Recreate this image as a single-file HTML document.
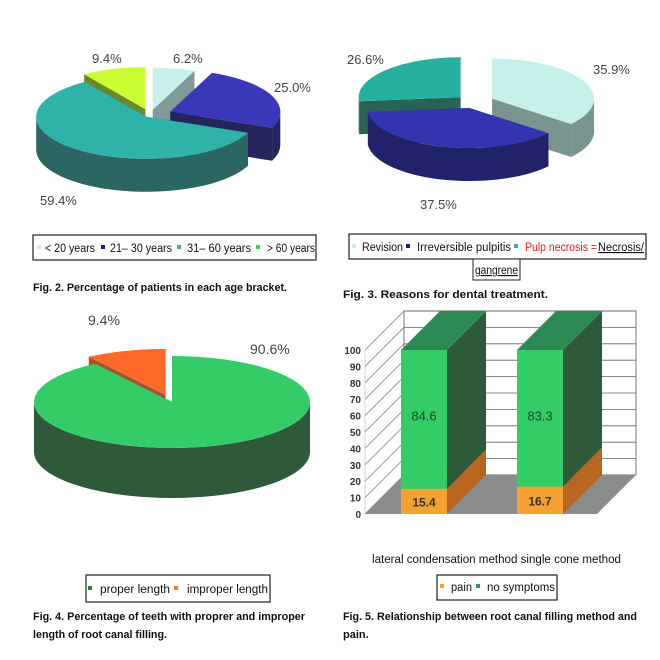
<!DOCTYPE html>
<html><head><meta charset="utf-8"><style>
body{margin:0;background:#fff;width:660px;height:660px;overflow:hidden}
svg{display:block}
text{font-family:"Liberation Sans",sans-serif}
.lbl{font-size:13px;fill:#444}
.leg{font-family:"Liberation Sans",sans-serif;font-size:11.5px;fill:#111}
.cap{font-size:11px;font-weight:bold;fill:#111;font-family:"Liberation Sans",sans-serif}
.tick{font-size:10px;font-weight:bold;fill:#333;font-family:"Liberation Sans",sans-serif}
</style></head><body>
<svg id="fig" width="660" height="660" viewBox="0 0 660 660">
<g id="fig2"></g>
<g id="fig3"></g>
<g id="fig4"></g>
<g id="fig5"></g>

<!-- Fig 2 labels/legend -->
<text class="lbl" x="92" y="63">9.4%</text>
<text class="lbl" x="173" y="63">6.2%</text>
<text class="lbl" x="274" y="92">25.0%</text>
<text class="lbl" x="40" y="205">59.4%</text>
<g>
<rect x="33" y="235" width="283" height="25" fill="#fff" stroke="#222" stroke-width="1.2"/>
<rect x="37" y="245" width="4" height="4" fill="#c8f0ec"/>
<text class="leg" x="45" y="252" textLength="50" lengthAdjust="spacingAndGlyphs">&lt; 20 years</text>
<rect x="101" y="245" width="4" height="4" fill="#1a1a90"/>
<text class="leg" x="110" y="252" textLength="62" lengthAdjust="spacingAndGlyphs">21–  30 years</text>
<rect x="177" y="245" width="4" height="4" fill="#2fb2a8"/>
<text class="leg" x="187" y="252" textLength="64" lengthAdjust="spacingAndGlyphs">31–  60 years</text>
<rect x="256" y="245" width="4" height="4" fill="#33dd33"/>
<text class="leg" x="267" y="252" textLength="48" lengthAdjust="spacingAndGlyphs">&gt; 60 years</text>
</g>
<text class="cap" x="33" y="291" textLength="254" lengthAdjust="spacingAndGlyphs">Fig. 2. Percentage of patients in each age bracket.</text>

<!-- Fig 3 labels/legend -->
<text class="lbl" x="347" y="64">26.6%</text>
<text class="lbl" x="593" y="74">35.9%</text>
<text class="lbl" x="420" y="209">37.5%</text>
<g>
<rect x="349" y="234" width="297" height="25" fill="#fff" stroke="#222" stroke-width="1.2"/>
<rect x="352" y="244" width="4" height="4" fill="#c8f0ec"/>
<text class="leg" x="362" y="251" textLength="41" lengthAdjust="spacingAndGlyphs">Revision</text>
<rect x="406" y="244" width="4" height="4" fill="#1a1a90"/>
<text class="leg" x="417" y="251" textLength="94" lengthAdjust="spacingAndGlyphs">Irreversible pulpitis</text>
<rect x="514" y="244" width="4" height="4" fill="#2fb2a8"/>
<text class="leg" x="525" y="251" textLength="72" lengthAdjust="spacingAndGlyphs" style="fill:#e02020">Pulp necrosis =</text><text class="leg" x="598" y="251" textLength="46" lengthAdjust="spacingAndGlyphs" text-decoration="underline">Necrosis/</text>
<rect x="473" y="259" width="47" height="21" fill="#fff" stroke="#222" stroke-width="1"/>
<text class="leg" x="475" y="274" textLength="43" lengthAdjust="spacingAndGlyphs" text-decoration="underline">gangrene</text>
</g>
<text class="cap" x="343" y="298" textLength="205" lengthAdjust="spacingAndGlyphs">Fig. 3. Reasons for dental treatment.</text>

<!-- Fig 4 labels/legend -->
<text class="lbl" x="88" y="325" style="font-size:14px">9.4%</text>
<text class="lbl" x="250" y="354" style="font-size:14px">90.6%</text>
<g>
<rect x="86" y="575" width="184" height="27" fill="#fff" stroke="#222" stroke-width="1.2"/>
<rect x="88" y="586" width="4" height="4" fill="#1a8a30"/>
<text class="leg" x="100" y="593" textLength="70" lengthAdjust="spacingAndGlyphs">proper length</text>
<rect x="174" y="586" width="4" height="4" fill="#ff7733"/>
<text class="leg" x="187" y="593" textLength="81" lengthAdjust="spacingAndGlyphs">improper length</text>
</g>
<text class="cap" x="33" y="620" textLength="272" lengthAdjust="spacingAndGlyphs">Fig. 4. Percentage of teeth with proprer and improper</text>
<text class="cap" x="33" y="638" textLength="134" lengthAdjust="spacingAndGlyphs">length of root canal filling.</text>

<!-- Fig 5 text -->
<text class="leg" x="372" y="563" textLength="249" lengthAdjust="spacingAndGlyphs">lateral condensation method  single cone method</text>
<g>
<rect x="437" y="575" width="120" height="25" fill="#fff" stroke="#222" stroke-width="1.2"/>
<rect x="440" y="584" width="4" height="4" fill="#f5a030"/>
<text class="leg" x="451" y="591" textLength="21" lengthAdjust="spacingAndGlyphs">pain</text>
<rect x="476" y="584" width="4" height="4" fill="#2a9a5a"/>
<text class="leg" x="487" y="591" textLength="68" lengthAdjust="spacingAndGlyphs">no symptoms</text>
</g>
<text class="cap" x="343" y="620" textLength="294" lengthAdjust="spacingAndGlyphs">Fig. 5. Relationship between root canal filling method and</text>
<text class="cap" x="343" y="638">pain.</text>
</svg>
<script>
// ---- data ----
const ageCategories = ["< 20 years","21-30 years","31-60 years","> 60 years"];
const ageValues = [6.2, 25.0, 59.4, 9.4];
const reasonCategories = ["Revision","Irreversible pulpitis","Pulp necrosis"];
const reasonValues = [35.9, 37.5, 26.6];
const lengthCategories = ["improper length","proper length"];
const lengthValues = [9.4, 90.6];
const methodCategories = ["lateral condensation method","single cone method"];
const painValues = [15.4, 16.7];
const noSymptomValues = [84.6, 83.3];
const yTicks = [0,10,20,30,40,50,60,70,80,90,100];

const NS = "http://www.w3.org/2000/svg";
function mk(parent, tag, attrs){const e=document.createElementNS(NS,tag);for(const k in attrs)e.setAttribute(k,attrs[k]);parent.appendChild(e);return e;}

function pie3d(g, values, names, tops, sides, cx, cy, rx, ry, depth, explode, startFrac){
  const total = values.reduce((a,b)=>a+b,0);
  let acc = startFrac||0;
  const slices = values.map((v,i)=>{const a0=acc/total*2*Math.PI;acc+=v;const a1=acc/total*2*Math.PI;return {i,a0,a1,mid:(a0+a1)/2};});
  function P(s,t,h){const ox=explode[s.i]*Math.sin(s.mid), oy=-explode[s.i]*Math.cos(s.mid)*ry/rx;return [cx+ox+rx*Math.sin(t), cy+oy-ry*Math.cos(t)+h];}
  function C(s,h){const ox=explode[s.i]*Math.sin(s.mid), oy=-explode[s.i]*Math.cos(s.mid)*ry/rx;return [cx+ox, cy+oy+h];}
  const order = slices.slice().sort((a,b)=>Math.cos(b.mid)-Math.cos(a.mid));
  order.forEach(s=>{
    const sg = mk(g,'g',{});
    
    
    [s.a0,s.a1].forEach(t=>{
      const c0=C(s,0),p0=P(s,t,0),p1=P(s,t,depth),c1=C(s,depth);
      mk(sg,'polygon',{points:[c0,p0,p1,c1].map(p=>p.join(',')).join(' '),fill:sides[s.i]});
    });
    const ranges=[[Math.PI/2,3*Math.PI/2]];
    ranges.forEach(r=>{
      const lo=Math.max(s.a0,r[0]), hi=Math.min(s.a1,r[1]);
      if(lo<hi){
        const pts=[];const n=40;
        for(let k=0;k<=n;k++)pts.push(P(s,lo+(hi-lo)*k/n,0));
        for(let k=n;k>=0;k--)pts.push(P(s,lo+(hi-lo)*k/n,depth));
        mk(sg,'polygon',{points:pts.map(p=>p.join(',')).join(' '),fill:sides[s.i]});
      }
    });
  });
  slices.forEach(s=>{
    const pts=[C(s,0)];const n=60;
    for(let k=0;k<=n;k++)pts.push(P(s,s.a0+(s.a1-s.a0)*k/n,0));
    const p = mk(g,'polygon',{points:pts.map(p=>p.join(',')).join(' '),fill:tops[s.i]});
    
    
  });
}

pie3d(document.getElementById('fig2'), ageValues, ageCategories,
  ['#c8f0ec','#3838b8','#2fb2a8','#ccff33'], ['#7f9a98','#25255e','#2c6662','#6a8a2a'],
  150, 115, 110, 42, 33, [14,22,6,16], 0);
pie3d(document.getElementById('fig3'), reasonValues, reasonCategories,
  ['#c6f0ea','#3434b0','#26b09e'], ['#7a9590','#22226a','#2a6258'],
  474, 102, 102, 40, 33, [20,16,18], 0);
pie3d(document.getElementById('fig4'), lengthValues, lengthCategories,
  ['#ff6a2a','#33cc66'], ['#a8532a','#2f5a3a'],
  172, 402, 138, 46, 50, [22,0], -lengthValues[0]);

// ---- Fig 5 bars ----
const f5 = document.getElementById('fig5');
const y0px=514, pxPerUnit=1.64, DX=39, DY=-39;
function yS(v){return y0px - v*pxPerUnit;}
const xLeft=365, xRight=597;
function xBand(i){return 401 + i*116;}
const barW=46;
mk(f5,'rect',{x:xLeft+DX,y:yS(100)+DY,width:xRight-xLeft,height:100*pxPerUnit,fill:'#fff',stroke:'#555','stroke-width':0.8});
yTicks.forEach(v=>{
  const l=mk(f5,'line',{x1:xLeft+DX,y1:yS(v)+DY,x2:xRight+DX,y2:yS(v)+DY,stroke:'#666','stroke-width':0.8});
  
  
  mk(f5,'line',{x1:xLeft,y1:yS(v),x2:xLeft+DX,y2:yS(v)+DY,stroke:'#777','stroke-width':0.7});
  const t=mk(f5,'text',{x:xLeft-4,y:yS(v)+4,'text-anchor':'end',class:'tick'});
  t.textContent=v;
  
  
});
mk(f5,'line',{x1:xLeft,y1:yS(0),x2:xLeft,y2:yS(100),stroke:'#aaa','stroke-width':0.5});
mk(f5,'polygon',{points:`${xLeft},${yS(0)} ${xRight},${yS(0)} ${xRight+DX},${yS(0)+DY} ${xLeft+DX},${yS(0)+DY}`,fill:'#8c8c8c'});
methodCategories.forEach((c,i)=>{
  const x=xBand(i);
  const bg=mk(f5,'g',{});
  
  
  const segs=[[0,painValues[i],'#f5a030','#b8651f','pain'],[painValues[i],painValues[i]+noSymptomValues[i],'#33cc66','#2f5a3a','no-symptoms']];
  segs.forEach(s=>{
    const yb=yS(s[0]), yt=yS(s[1]);
    mk(bg,'polygon',{points:`${x+barW},${yb} ${x+barW+DX},${yb+DY} ${x+barW+DX},${yt+DY} ${x+barW},${yt}`,fill:s[3]});
    const r=mk(bg,'rect',{x:x,y:yt,width:barW,height:yb-yt,fill:s[2]});
    
    
  });
  const yt=yS(painValues[i]+noSymptomValues[i]);
  mk(bg,'polygon',{points:`${x},${yt} ${x+barW},${yt} ${x+barW+DX},${yt+DY} ${x+DX},${yt+DY}`,fill:'#2e8a55'});
  const t1=mk(bg,'text',{x:x+barW/2,y:yS(painValues[i]/2)+5,'text-anchor':'middle',style:'font-size:12px;font-weight:bold;fill:#333'});
  t1.textContent=painValues[i].toFixed(1);
  const t2=mk(bg,'text',{x:x+barW/2,y:yS(60)+5,'text-anchor':'middle',style:'font-size:13px;fill:#1a4a2a'});
  t2.textContent=noSymptomValues[i].toFixed(1);
});
</script>
</body></html>
